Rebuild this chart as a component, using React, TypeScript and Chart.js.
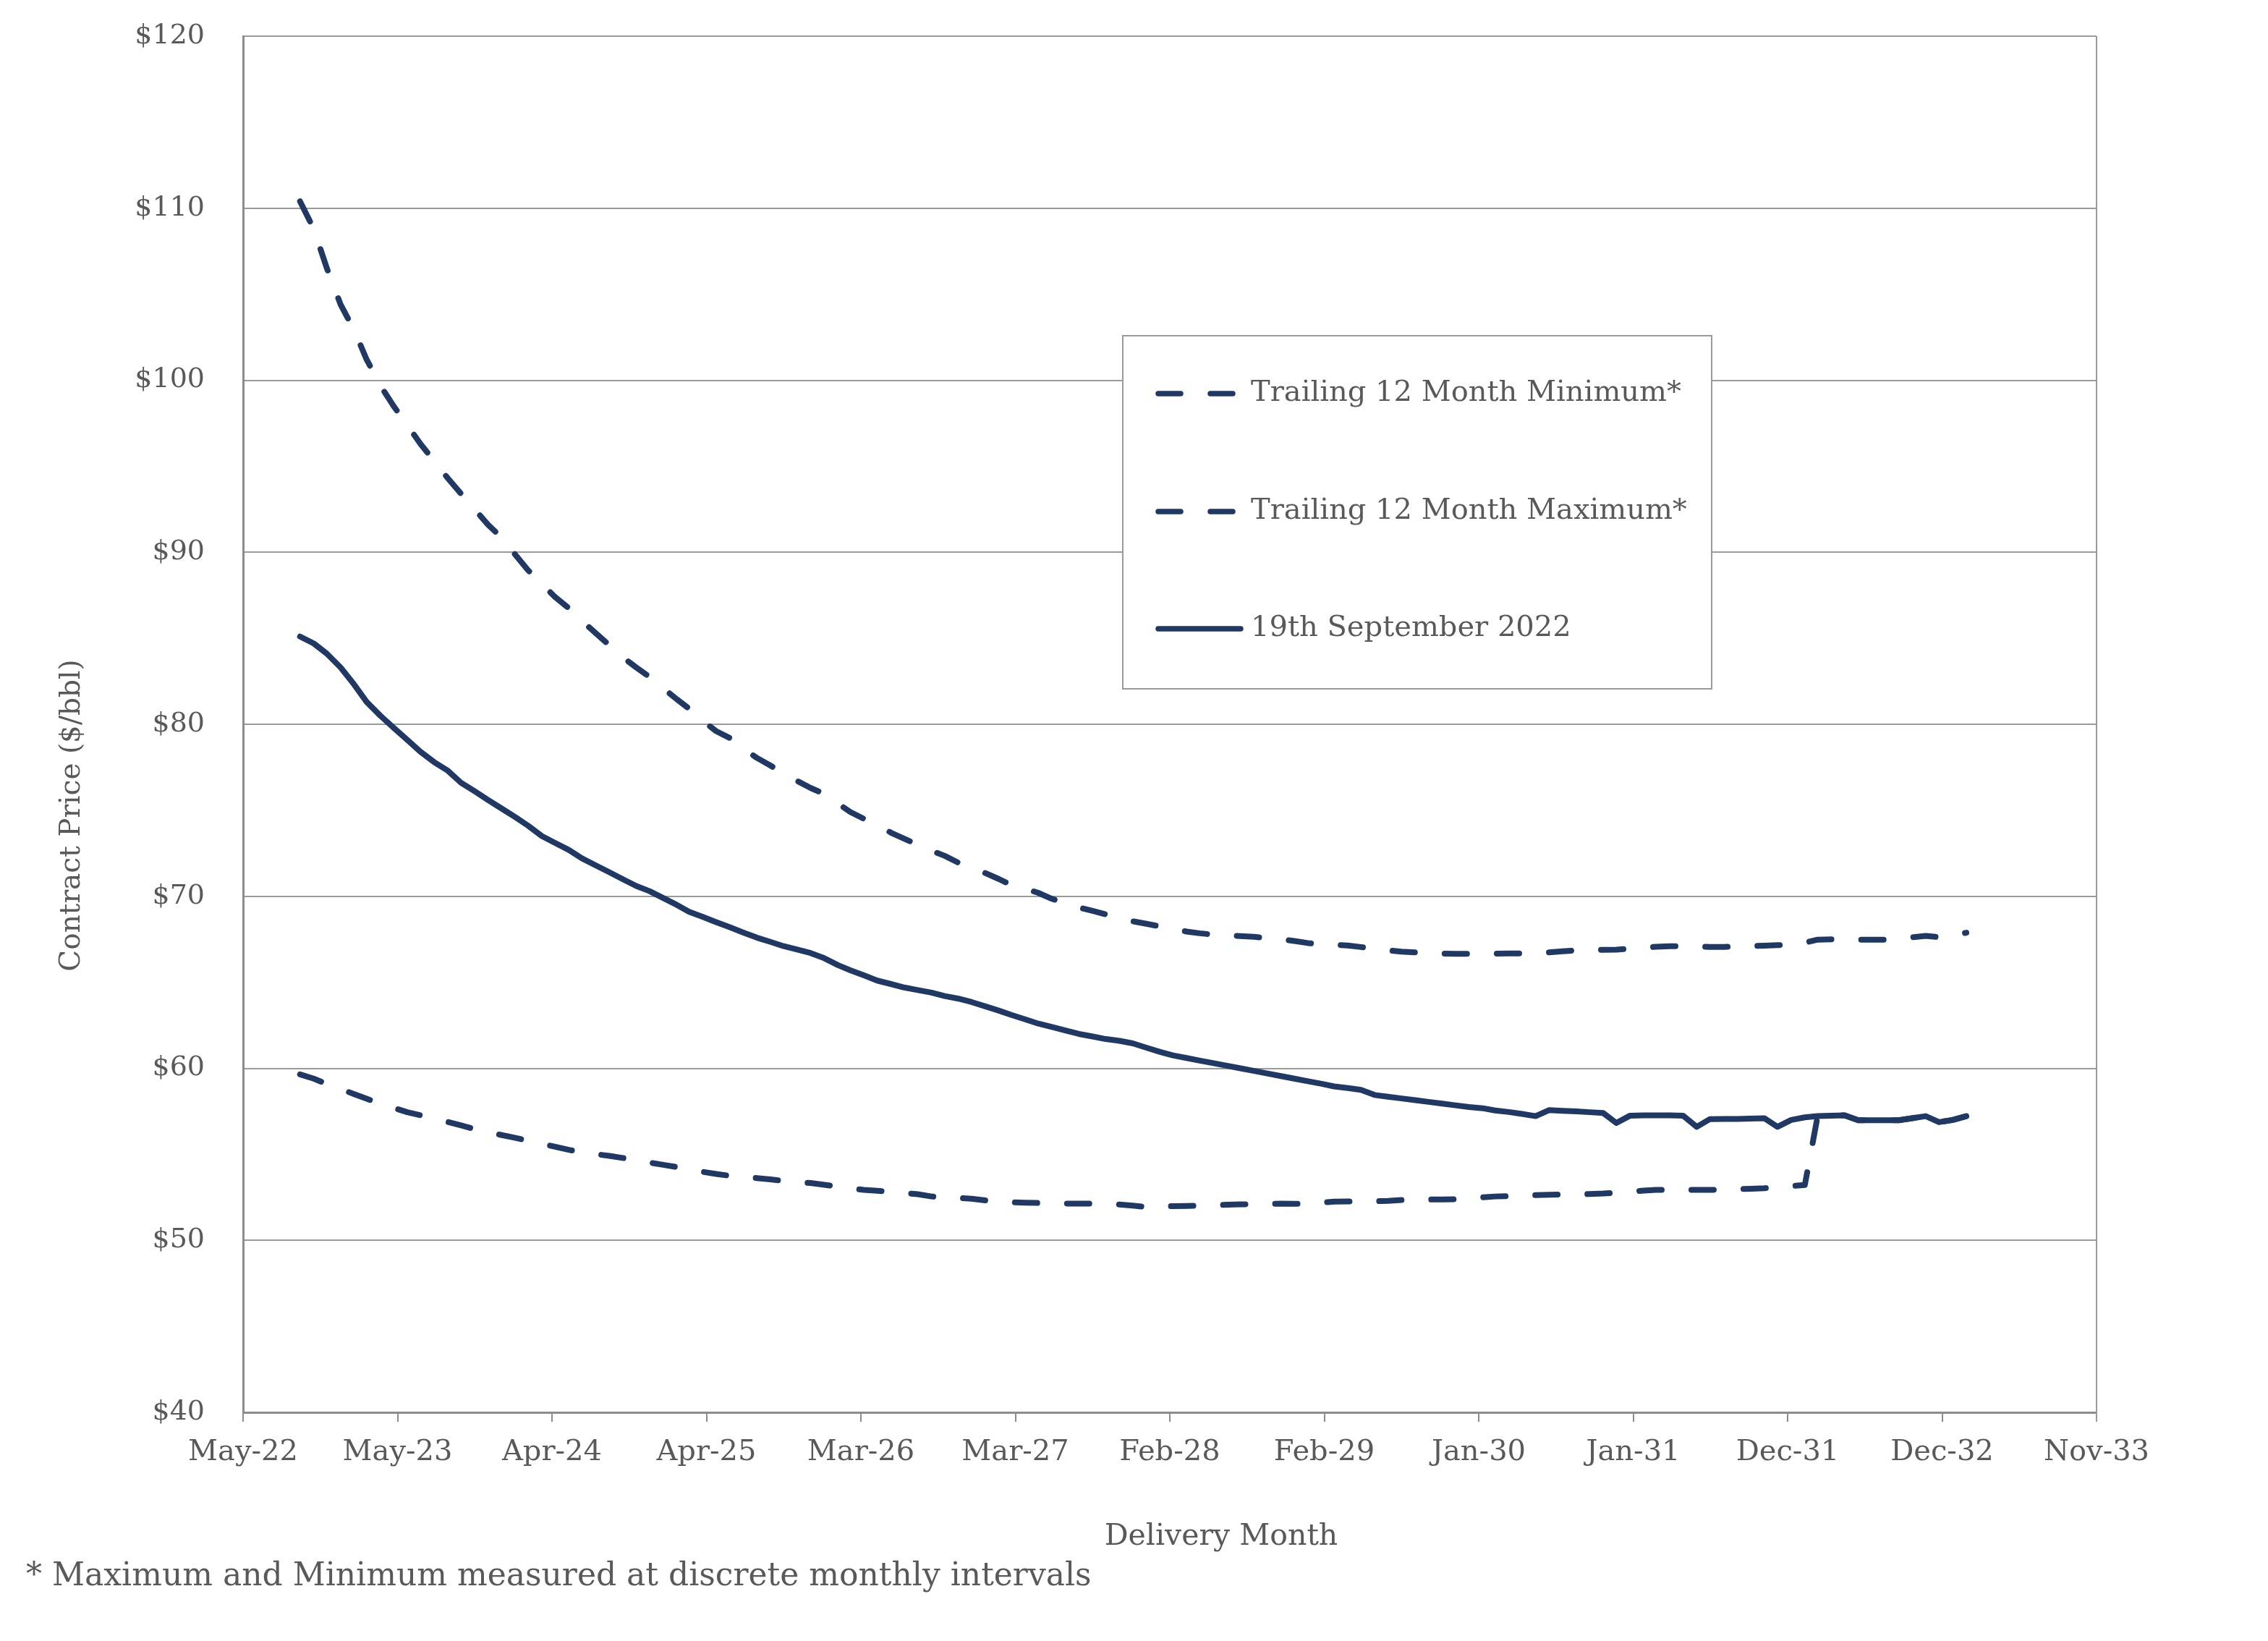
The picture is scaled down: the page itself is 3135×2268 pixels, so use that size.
import React, { useEffect, useRef } from 'react';
import { Chart, registerables } from 'chart.js';

Chart.register(...registerables);

// ---------- data ----------
const axisStartUTC = Date.UTC(2022, 4, 25); // axis origin (labelled May-22)
const tickStepDays = 350;
const xTickLabels = [
  'May-22', 'May-23', 'Apr-24', 'Apr-25', 'Mar-26', 'Mar-27', 'Feb-28',
  'Feb-29', 'Jan-30', 'Jan-31', 'Dec-31', 'Dec-32', 'Nov-33',
];
const yMin = 40;
const yMax = 120;
const yStep = 10;

// first delivery month of every series: Oct-22, then monthly
const firstDeliveryYear = 2022;
const firstDeliveryMonth = 9;

const seriesLabels = [
  'Trailing 12 Month Minimum*',
  'Trailing 12 Month Maximum*',
  '19th September 2022',
];

const trailingMin = [
  59.65, 59.4, 59.08, 58.8, 58.5, 58.23, 57.95, 57.7, 57.45, 57.27,
  57.08, 56.88, 56.68, 56.46, 56.28, 56.12, 55.96, 55.79, 55.62, 55.44,
  55.26, 55.11, 55.01, 54.91, 54.79, 54.66, 54.52, 54.39, 54.26, 54.13,
  53.98, 53.86, 53.75, 53.68, 53.62, 53.54, 53.45, 53.39, 53.33, 53.23,
  53.12, 53.02, 52.93, 52.88, 52.82, 52.75, 52.68, 52.55, 52.49, 52.46,
  52.42, 52.32, 52.26, 52.21, 52.19, 52.17, 52.16, 52.14, 52.13, 52.13,
  52.12, 52.08, 52.02, 51.94, 51.96, 51.99, 52.0, 52.01, 52.04, 52.07,
  52.09, 52.11, 52.12, 52.13, 52.12, 52.12, 52.2, 52.25, 52.26, 52.27,
  52.27, 52.29, 52.34, 52.37, 52.37, 52.38, 52.39, 52.42, 52.5, 52.55,
  52.57, 52.6, 52.63, 52.65, 52.66, 52.67, 52.69, 52.72, 52.77, 52.83,
  52.89, 52.93, 52.93, 52.93, 52.93, 52.93, 52.95, 52.97, 53.0, 53.03,
  53.08, 53.15, 53.22, 57.22, 57.25, 57.27, 56.98, 56.98, 56.98, 56.98,
  57.1, 57.22, 56.87, 57.0, 57.22,
];

const trailingMax = [
  110.4, 108.8, 106.5, 104.4, 102.9, 101.2, 99.7, 98.5, 97.4, 96.3,
  95.3, 94.3, 93.4, 92.5, 91.6, 90.85, 89.85, 88.95, 88.15, 87.4,
  86.75, 86.0, 85.3, 84.6, 83.9, 83.3, 82.75, 82.1, 81.45, 80.9,
  80.2, 79.6, 79.2, 78.6, 78.05, 77.6, 77.15, 76.7, 76.3, 75.95,
  75.4, 74.9, 74.5, 74.15, 73.7, 73.35, 73.0, 72.65, 72.35, 71.95,
  71.65, 71.35, 71.0, 70.65, 70.45, 70.2, 69.85, 69.6, 69.35, 69.15,
  68.95, 68.75, 68.55, 68.4, 68.25, 68.1, 67.95, 67.85, 67.77, 67.72,
  67.69, 67.64, 67.58, 67.5, 67.4, 67.28, 67.2, 67.18, 67.14, 67.05,
  66.95, 66.86, 66.78, 66.74, 66.7, 66.67, 66.66, 66.66, 66.66, 66.67,
  66.68, 66.68, 66.7, 66.74, 66.8, 66.86, 66.88, 66.89, 66.9, 66.95,
  67.0, 67.07, 67.1, 67.09, 67.07, 67.06, 67.06, 67.08, 67.1, 67.13,
  67.16, 67.18, 67.3, 67.48, 67.5, 67.5, 67.48, 67.48, 67.48, 67.55,
  67.62, 67.7, 67.62, 67.75, 67.88,
];

const sept19Curve = [
  85.1, 84.7, 84.1, 83.3, 82.3, 81.3, 80.5, 79.8, 79.1, 78.4,
  77.8, 77.3, 76.6, 76.1, 75.6, 75.1, 74.6, 74.1, 73.5, 73.1,
  72.7, 72.2, 71.8, 71.4, 71.0, 70.6, 70.3, 69.9, 69.5, 69.1,
  68.8, 68.5, 68.2, 67.9, 67.6, 67.35, 67.1, 66.9, 66.7, 66.4,
  66.0, 65.7, 65.4, 65.1, 64.9, 64.7, 64.55, 64.4, 64.2, 64.05,
  63.85, 63.6, 63.35, 63.1, 62.85, 62.6, 62.4, 62.2, 62.0, 61.85,
  61.7, 61.6, 61.45, 61.2, 60.95, 60.75, 60.6, 60.45, 60.3, 60.15,
  60.0, 59.85, 59.7, 59.55, 59.4, 59.25, 59.1, 58.95, 58.85, 58.75,
  58.45, 58.35, 58.25, 58.15, 58.05, 57.95, 57.85, 57.75, 57.68, 57.55,
  57.46, 57.35, 57.22, 57.57, 57.53, 57.5, 57.45, 57.4, 56.82, 57.25,
  57.27, 57.27, 57.27, 57.25, 56.6, 57.05, 57.06, 57.06, 57.08, 57.1,
  56.6, 57.0, 57.15, 57.22, 57.25, 57.27, 56.98, 56.98, 56.98, 56.98,
  57.1, 57.22, 56.87, 57.0, 57.22,
];

const footnote = '* Maximum and Minimum measured at discrete monthly intervals';
const xTitle = 'Delivery Month';
const yTitle = 'Contract Price ($/bbl)';

// ---------- styles ----------
const NAVY = '#1f3864';
const TEXT = '#595959';
const GRID = '#9a9a9a';
const AXIS = '#8c8c8c';
const FONT = '"DejaVu Serif", serif';
const DASH = [31, 41];
const LINE_W = 8;

const DAY_MS = 86400000;
const toPoints = (values: number[]) =>
  values.map((v, i) => ({
    x: (Date.UTC(firstDeliveryYear, firstDeliveryMonth + i, 1) - axisStartUTC) / DAY_MS,
    y: v,
  }));

const decorPlugin = {
  id: 'decor',
  beforeDatasetsDraw(chart: any) {
    const { ctx, chartArea: a } = chart;
    ctx.save();
    ctx.strokeStyle = GRID;
    ctx.lineWidth = 2;
    ctx.beginPath();
    ctx.moveTo(a.right, a.top);
    ctx.lineTo(a.right, a.bottom + 13);
    ctx.stroke();
    ctx.restore();
  },
  afterDatasetsDraw(chart: any) {
    const { ctx } = chart;
    ctx.save();
    // legend box
    const bx = 1544, by = 456, bw = 814, bh = 488;
    ctx.fillStyle = '#ffffff';
    ctx.fillRect(bx, by, bw, bh);
    ctx.strokeStyle = GRID;
    ctx.lineWidth = 2;
    ctx.strokeRect(bx, by, bw, bh);
    const rows = [536, 699, 861];
    chart.data.datasets.forEach((ds: any, i: number) => {
      const y = rows[i];
      const dashed = !!(ds.borderDash && ds.borderDash.length);
      ctx.strokeStyle = NAVY;
      ctx.lineWidth = 7.5;
      ctx.lineCap = 'round';
      ctx.setLineDash(dashed ? DASH : []);
      ctx.beginPath();
      ctx.moveTo(1593, y);
      ctx.lineTo(dashed ? 1697 : 1707, y);
      ctx.stroke();
      ctx.setLineDash([]);
      ctx.fillStyle = TEXT;
      ctx.font = `40px ${FONT}`;
      ctx.textAlign = 'left';
      ctx.textBaseline = 'middle';
      ctx.fillText(ds.label, 1721, y);
    });
    // axis titles
    ctx.fillStyle = TEXT;
    ctx.font = `41px ${FONT}`;
    ctx.textAlign = 'center';
    ctx.textBaseline = 'middle';
    ctx.fillText(xTitle, 1680, 2116);
    ctx.save();
    ctx.translate(92, 1119);
    ctx.rotate(-Math.PI / 2);
    ctx.font = `39px ${FONT}`;
    ctx.fillText(yTitle, 0, 0);
    ctx.restore();
    // footnote
    ctx.font = `44px ${FONT}`;
    ctx.textAlign = 'left';
    ctx.fillText(footnote, 28, 2172);
    ctx.restore();
  },
};

export default function App() {
  const ref = useRef<HTMLCanvasElement | null>(null);

  useEffect(() => {
    if (!ref.current) return;
    const common = {
      borderColor: NAVY,
      backgroundColor: NAVY,
      borderWidth: LINE_W,
      borderCapStyle: 'round' as const,
      borderJoinStyle: 'round' as const,
      pointRadius: 0,
      fill: false,
      tension: 0,
    };
    const chart = new Chart(ref.current, {
      type: 'line',
      data: {
        datasets: [
          { ...common, label: seriesLabels[0], data: toPoints(trailingMin), borderDash: DASH },
          { ...common, label: seriesLabels[1], data: toPoints(trailingMax), borderDash: DASH },
          { ...common, label: seriesLabels[2], data: toPoints(sept19Curve) },
        ],
      },
      options: {
        responsive: false,
        animation: false,
        devicePixelRatio: 1,
        layout: { padding: { left: 0, right: 229, top: 42, bottom: 0 } },
        plugins: { legend: { display: false }, tooltip: { enabled: false } },
        scales: {
          x: {
            type: 'linear',
            min: 0,
            max: tickStepDays * (xTickLabels.length - 1),
            afterBuildTicks: (s: any) => {
              s.ticks = xTickLabels.map((_, i) => ({ value: i * tickStepDays }));
            },
            afterFit: (s: any) => {
              s.height = 308;
            },
            ticks: {
              callback: (_v: any, i: number) => xTickLabels[i],
              autoSkip: false,
              maxRotation: 0,
              minRotation: 0,
              padding: 19,
              color: TEXT,
              font: { family: FONT, size: 40 },
            },
            grid: { drawOnChartArea: false, drawTicks: true, tickLength: 13, color: AXIS, lineWidth: 2 },
            border: { color: AXIS, width: 3 },
          },
          y: {
            min: yMin,
            max: yMax,
            afterFit: (s: any) => {
              s.width = 328;
              s.paddingTop = 0;
              s.paddingBottom = 0;
            },
            ticks: {
              stepSize: yStep,
              callback: (v: any) => '$' + v,
              padding: 53,
              color: TEXT,
              font: { family: FONT, size: 38 },
            },
            grid: { color: GRID, lineWidth: 2, drawTicks: false },
            border: { color: AXIS, width: 3 },
          },
        },
      },
      plugins: [decorPlugin],
    } as any);

    // keep the max line's dash pattern starting with a dash and ending on a dash start
    const meta = chart.getDatasetMeta(1);
    let len = 0;
    for (let i = 1; i < meta.data.length; i++) {
      const p = meta.data[i - 1] as any;
      const q = meta.data[i] as any;
      len += Math.hypot(q.x - p.x, q.y - p.y);
    }
    const period = DASH[0] + DASH[1];
    const n = Math.max(1, Math.round((len - 2) / period));
    const k = (len - 2) / n / period;
    (chart.data.datasets[1] as any).borderDash = [DASH[0] * k, DASH[1] * k];
    chart.update();

    return () => chart.destroy();
  }, []);

  return (
    <div style={{ width: 3119, height: 2252 }}>
      <canvas ref={ref} width={3119} height={2252} style={{ display: 'block' }} />
    </div>
  );
}
